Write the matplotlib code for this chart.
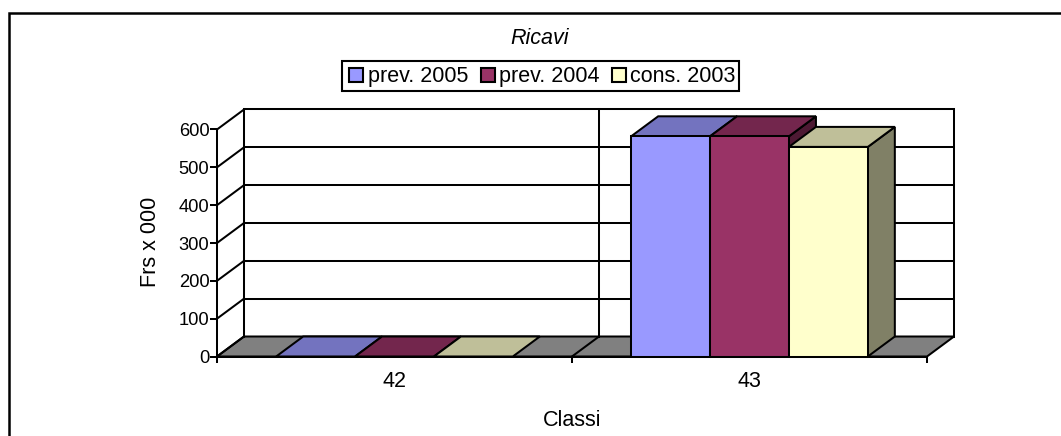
import matplotlib
matplotlib.use("Agg")
import matplotlib.pyplot as plt
from matplotlib.patches import Polygon, Rectangle
from matplotlib.lines import Line2D

plt.rcParams['font.family'] = ['Liberation Sans', 'DejaVu Sans']

categories = ['42', '43']
series_names = ['prev. 2005', 'prev. 2004', 'cons. 2003']
prev_2005 = [0, 582]
prev_2004 = [0, 582]
cons_2003 = [0, 554]
series = [prev_2005, prev_2004, cons_2003]
front_colors = ['#9999FF', '#993366', '#FFFFCC']
top_colors = ['#7373BF', '#73264D', '#BFBF99']
side_colors = ['#73739A', '#4D1933', '#808066']
y_ticks = [0, 100, 200, 300, 400, 500, 600]

W, H = 1061, 436
fig = plt.figure(figsize=(W / 100, H / 100), dpi=100, facecolor='white')

# Chart frame: only the top and left edges fall inside the picture
fig.add_artist(Line2D([8.5 / W, 8.5 / W, 1], [0, 1 - 13.5 / H, 1 - 13.5 / H],
                      color='black', lw=1.8, transform=fig.transFigure,
                      solid_joinstyle='miter'))

# Axes = front plane of the 3D box
x0, x1, y0, y1 = 217, 927, 356.5, 129.5
ax = fig.add_axes([x0 / W, 1 - y0 / H, (x1 - x0) / W, (y0 - y1) / H])
ax.set_xlim(0, len(categories))
ax.set_ylim(0, 600)
ax.patch.set_visible(False)

px_x = len(categories) / (x1 - x0)
px_y = 600 / (y0 - y1)
dx = 27 * px_x
dy = 20 * px_y
LW = 1.45
EK = dict(edgecolor='black', linewidth=LW, clip_on=False, joinstyle='miter')
LK = dict(color='black', lw=LW, clip_on=False, solid_capstyle='projecting')

n = len(categories)
# Floor
ax.add_patch(Polygon([(0, 0), (n, 0), (n + dx, dy), (dx, dy)],
                     facecolor='#808080', zorder=1, **EK))
# Back wall, gridlines, left wall
ax.plot([dx, dx, n + dx, n + dx], [dy, 600 + dy, 600 + dy, dy], zorder=1.5, **LK)
ax.plot([1 + dx, 1 + dx], [dy, 600 + dy], zorder=1.5, **LK)
ax.plot([1, 1 + dx], [0, dy], zorder=1.5, **LK)
for v in y_ticks:
    ax.plot([0, dx], [v, v + dy], zorder=1.5, **LK)
    if v > 0:
        ax.plot([dx, n + dx], [v + dy, v + dy], zorder=1.5, **LK)
ax.plot([dx, dx], [0 + dy, 600 + dy], zorder=1.5, **LK)

# 3D bars: group fills 2/3 of each category (gap width 50%)
bw = 1 / 4.5
z = 2.0
for c in range(n):
    start = c + (1 - 3 * bw) / 2
    for s, vals in enumerate(series):
        v = vals[c]
        l, r = start + s * bw, start + (s + 1) * bw
        if v > 0:
            ax.add_patch(Polygon([(r, 0), (r + dx, dy), (r + dx, v + dy), (r, v)],
                                 facecolor=side_colors[s], zorder=z, **EK))
        ax.add_patch(Polygon([(l, v), (r, v), (r + dx, v + dy), (l + dx, v + dy)],
                             facecolor=top_colors[s], zorder=z + 0.1, **EK))
        if v > 0:
            ax.bar(l, v, width=bw, align='edge', color=front_colors[s],
                   edgecolor='black', linewidth=LW, clip_on=False, zorder=z + 0.2)
        z += 1

# Axis lines, ticks and labels
for sp in ['top', 'right']:
    ax.spines[sp].set_visible(False)
for sp in ['left', 'bottom']:
    ax.spines[sp].set_linewidth(LW)
    ax.spines[sp].set_zorder(50)
ax.set_yticks(y_ticks)
ax.set_xticks(range(n + 1))
ax.set_xticklabels([''] * (n + 1))
ax.set_xticks([i + 0.5 for i in range(n)], minor=True)
ax.set_xticklabels(categories, minor=True)
ax.tick_params(axis='x', which='major', length=4, width=LW, direction='out')
ax.tick_params(axis='x', which='minor', length=0, pad=10.5, labelsize=15.5)
ax.tick_params(axis='y', length=5, width=LW, direction='out', pad=0.5, labelsize=13.2)

fig.text(150 / W, 1 - 242 / H, 'Frs x 000', rotation=90, ha='center', va='center', fontsize=15.5)
fig.text(572 / W, 1 - 420 / H, 'Classi', ha='center', va='center', fontsize=15.5)
fig.text(539.5 / W, 1 - 39 / H, 'Ricavi', ha='center', va='center', fontsize=15.5, style='italic')

# Legend box
lg_left, lg_right, lg_top, lg_bottom = 341.5, 739, 61, 91
fig.add_artist(Rectangle((lg_left / W, 1 - lg_bottom / H), (lg_right - lg_left) / W,
                         (lg_bottom - lg_top) / H, transform=fig.transFigure,
                         facecolor='white', edgecolor='black', linewidth=1.5))
for s, (name, sw_x, tx) in enumerate(zip(series_names, [349, 480.5, 612], [368, 499, 630])):
    fig.add_artist(Rectangle((sw_x / W, 1 - 82 / H), 14 / W, 14 / H,
                             transform=fig.transFigure, facecolor=front_colors[s],
                             edgecolor='black', linewidth=1.5))
    fig.text(tx / W, 1 - 76 / H, name, ha='left', va='center', fontsize=15.5)

fig.savefig('out.png', dpi=100)
